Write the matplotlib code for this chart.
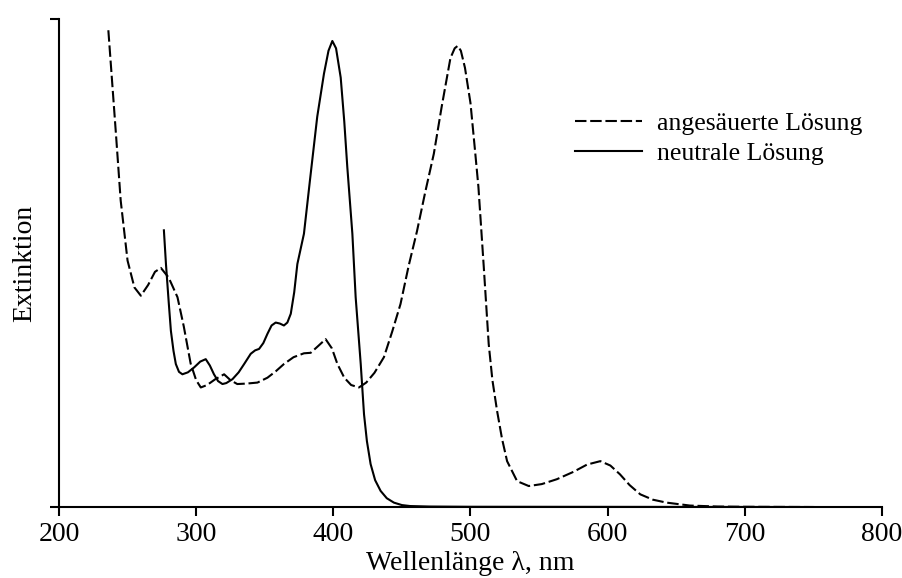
import matplotlib
matplotlib.use('Agg')
import matplotlib.pyplot as plt

plt.rcParams['font.family'] = ['Liberation Serif', 'DejaVu Serif']

# angesäuerte Lösung (gestrichelt)
wl_sauer = [236, 241.5, 245, 250, 255, 259.7, 265, 270, 274.3, 280, 286.4, 291,
            296, 300, 303.4, 308, 314, 320.4, 325, 330, 337, 344.7, 352, 358,
            364, 371, 378.6, 383.5, 389, 394.4, 399, 403, 408, 413, 418.7, 424,
            430, 436.9, 443, 449, 455, 461, 467, 473.3, 479, 485.4, 488.5, 490.7,
            493, 496, 500, 503, 505.8, 509.7, 513.3, 516, 519.4, 523, 526.7, 534,
            542.5, 552, 563, 575, 585, 594.7, 602, 609, 616, 623.8, 633, 643,
            660, 680, 700, 750]
ext_sauer = [0.977, 0.766, 0.628, 0.505, 0.45, 0.433, 0.455, 0.482, 0.49, 0.47,
             0.43, 0.37, 0.294, 0.26, 0.245, 0.25, 0.262, 0.272, 0.26, 0.252,
             0.253, 0.255, 0.265, 0.278, 0.293, 0.307, 0.315, 0.316, 0.33, 0.344,
             0.325, 0.293, 0.265, 0.25, 0.245, 0.255, 0.275, 0.307, 0.36, 0.416,
             0.495, 0.565, 0.645, 0.724, 0.82, 0.92, 0.94, 0.945, 0.935, 0.9,
             0.828, 0.74, 0.656, 0.492, 0.334, 0.26, 0.197, 0.14, 0.094, 0.053,
             0.043, 0.047, 0.057, 0.072, 0.087, 0.094, 0.085, 0.067, 0.045, 0.026,
             0.015, 0.009, 0.003, 0.001, 0.0005, 0.0]

# neutrale Lösung (durchgezogen)
wl_neutral = [276.5, 278, 280, 281.6, 283.5, 285.2, 287.5, 290, 294, 298.5, 303,
              307, 310, 313, 316, 319.2, 322, 326.5, 331, 335, 339.8, 343, 345.9,
              349, 352, 355, 358, 361, 364, 366.5, 369, 371.5, 373.8, 378.6, 383,
              388.3, 393.2, 396.5, 399.3, 402, 405.4, 408, 410.2, 413.9, 416.3,
              420, 422.4, 424.5, 427.2, 430.5, 434.5, 439, 444.2, 450, 456, 470,
              500, 750]
ext_neutral = [0.567, 0.498, 0.42, 0.361, 0.32, 0.293, 0.277, 0.272, 0.276, 0.286,
               0.298, 0.303, 0.29, 0.272, 0.258, 0.252, 0.254, 0.262, 0.276, 0.293,
               0.314, 0.321, 0.324, 0.336, 0.355, 0.372, 0.378, 0.376, 0.372, 0.378,
               0.396, 0.44, 0.498, 0.56, 0.67, 0.8, 0.888, 0.935, 0.955, 0.94, 0.88,
               0.79, 0.697, 0.56, 0.43, 0.293, 0.19, 0.135, 0.088, 0.055, 0.033,
               0.018, 0.009, 0.004, 0.002, 0.001, 0.0005, 0.0]

fig = plt.figure(figsize=(9.03, 5.78), dpi=100)
ax = fig.add_axes([0.0653, 0.1228, 0.9114, 0.8443])

ax.plot(wl_sauer, ext_sauer, color='black', lw=1.5, dashes=(5.5, 1.8),
        label='angesäuerte Lösung')
ax.plot(wl_neutral, ext_neutral, color='black', lw=1.5, label='neutrale Lösung')

ax.set_xlim(200, 800)
ax.set_ylim(0, 1)
ax.set_xticks([200, 300, 400, 500, 600, 700, 800])
ax.set_yticks([0, 1])
ax.set_yticklabels([])
ax.tick_params(direction='out', length=6.5, width=1.5, labelsize=20, pad=4.5)
for side in ['top', 'right']:
    ax.spines[side].set_visible(False)
for side in ['left', 'bottom']:
    ax.spines[side].set_linewidth(1.5)

ax.set_xlabel('Wellenlänge λ, nm', fontsize=20, labelpad=3)
ax.set_ylabel('Extinktion', fontsize=20, labelpad=5)

ax.legend(loc='upper left', bbox_to_anchor=(0.627, 0.81), frameon=False,
          fontsize=18.5, handlelength=2.6, handletextpad=0.6, labelspacing=0.3,
          borderaxespad=0, borderpad=0)

fig.savefig('out.png', dpi=100)
